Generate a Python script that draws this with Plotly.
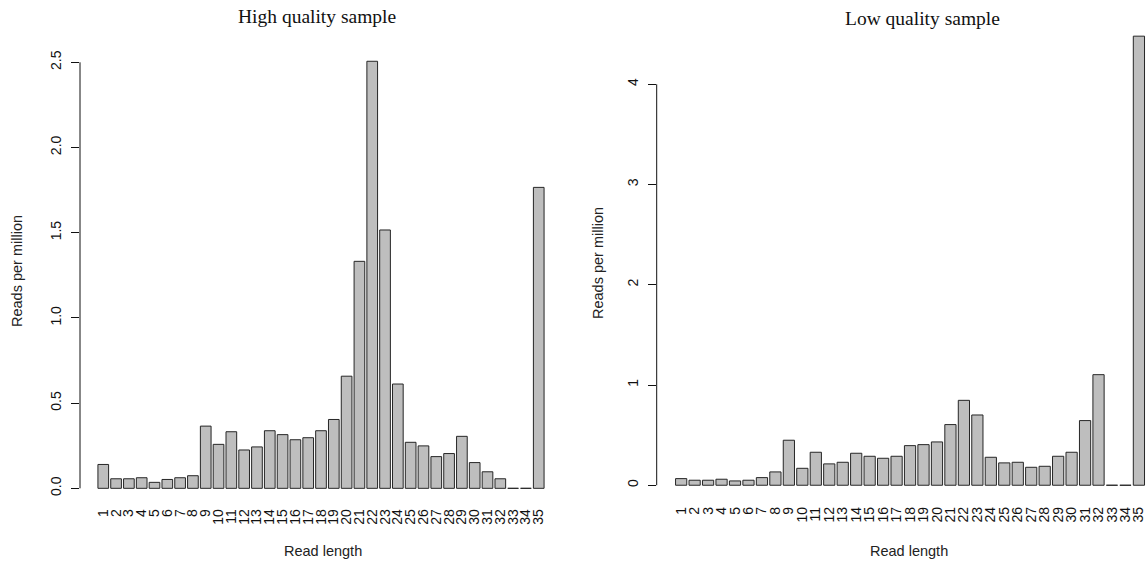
import plotly.graph_objects as go

W, H = 1147, 561

read_lengths = [str(i) for i in range(1, 36)]

high_quality = [0.140, 0.056, 0.056, 0.062, 0.035, 0.052, 0.062, 0.074, 0.365, 0.258,
                0.332, 0.225, 0.243, 0.338, 0.315, 0.285, 0.297, 0.338, 0.404, 0.658,
                1.332, 2.506, 1.516, 0.612, 0.270, 0.249, 0.186, 0.204, 0.305, 0.151,
                0.097, 0.056, 0.0, 0.0, 1.766]

low_quality = [0.066, 0.050, 0.050, 0.060, 0.043, 0.050, 0.076, 0.133, 0.449, 0.169,
               0.329, 0.213, 0.229, 0.319, 0.289, 0.269, 0.289, 0.395, 0.405, 0.432,
               0.605, 0.847, 0.701, 0.279, 0.223, 0.229, 0.179, 0.189, 0.289, 0.329,
               0.645, 1.103, 0.0, 0.0, 4.480]

high_ticks = [0.0, 0.5, 1.0, 1.5, 2.0, 2.5]
high_tick_text = ["0.0", "0.5", "1.0", "1.5", "2.0", "2.5"]
low_ticks = [0, 1, 2, 3, 4]
low_tick_text = ["0", "1", "2", "3", "4"]

titles = ["High quality sample", "Low quality sample"]
x_title = "Read length"
y_title = "Reads per million"

SANS = "Liberation Sans, Arial, sans-serif"
SERIF = "Liberation Serif, Times New Roman, serif"
FILL = "#BEBEBE"
EDGE = "#262626"


def px_x(p):
    return p / W


def px_y(p):
    return 1 - p / H


fig = go.Figure()

for idx, vals in enumerate([high_quality, low_quality]):
    xa = "x" if idx == 0 else "x2"
    ya = "y" if idx == 0 else "y2"
    fig.add_trace(go.Bar(
        x=read_lengths, y=vals, xaxis=xa, yaxis=ya,
        marker=dict(color=FILL, line=dict(color=EDGE, width=1)),
        showlegend=False, hoverinfo="x+y",
    ))

common_x = dict(type="category", tickmode="array", tickvals=read_lengths, ticktext=read_lengths,
                tickangle=-90, showline=False, showgrid=False, zeroline=False, ticks="",
                ticklabelstandoff=0,
                tickfont=dict(family=SANS, size=14, color="#111"))
common_y = dict(showline=False, showgrid=False, zeroline=False, ticks="outside", ticklen=8,
                tickcolor="#111", tickwidth=1, tickangle=-90, ticklabelstandoff=4,
                tickfont=dict(family=SANS, size=14, color="#111"))

hmax = max(high_quality)
lmax = max(low_quality)

fig.update_layout(
    width=W, height=H,
    margin=dict(l=0, r=0, t=0, b=0),
    paper_bgcolor="white", plot_bgcolor="white",
    bargap=0.2 / 1.2,
    xaxis=dict(common_x, domain=[px_x(80), px_x(562)], range=[-1.8167, 35.8167], anchor="y"),
    yaxis=dict(common_y, domain=[px_y(505.4), px_y(44.2)], range=[-0.04 * hmax, 1.04 * hmax],
               tickvals=high_ticks, ticktext=high_tick_text, anchor="x"),
    xaxis2=dict(common_x, domain=[px_x(656.7), 1.0], range=[-1.8167, 34.6], anchor="y2"),
    yaxis2=dict(common_y, domain=[px_y(503.2), px_y(18.2)], range=[-0.04 * lmax, 1.04 * lmax],
                tickvals=low_ticks, ticktext=low_tick_text, anchor="x2"),
)

# y axis lines spanning first to last tick (R style)
for ax, ticks in [("", high_ticks), ("2", low_ticks)]:
    fig.add_shape(type="line", xref=f"x{ax} domain", yref=f"y{ax}",
                  x0=0, x1=0, y0=ticks[0], y1=ticks[-1],
                  line=dict(color="#111", width=1))

annotations = [
    dict(text=titles[0], x=px_x(316.7), y=px_y(17), font=dict(family=SERIF, size=19.5, color="#111")),
    dict(text=titles[1], x=px_x(922.5), y=px_y(18), font=dict(family=SERIF, size=19.5, color="#111")),
    dict(text=x_title, x=px_x(323), y=px_y(551), font=dict(family=SANS, size=14.5, color="#222")),
    dict(text=x_title, x=px_x(909), y=px_y(550.5), font=dict(family=SANS, size=14.5, color="#222")),
    dict(text=y_title, x=px_x(17), y=px_y(271), textangle=-90, font=dict(family=SANS, size=14.5, color="#222")),
    dict(text=y_title, x=px_x(598), y=px_y(263), textangle=-90, font=dict(family=SANS, size=14.5, color="#222")),
]
for a in annotations:
    fig.add_annotation(xref="paper", yref="paper", showarrow=False,
                       xanchor="center", yanchor="middle", **a)

fig.write_html("out.html")
